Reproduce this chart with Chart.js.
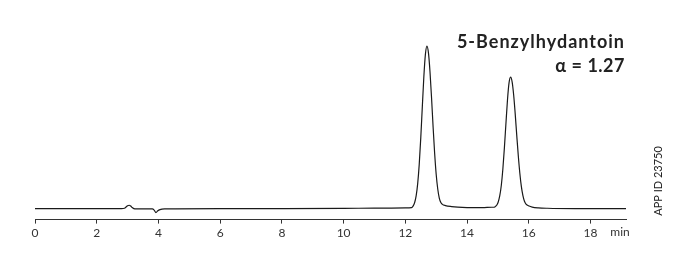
<!DOCTYPE html>
<html>
<head>
<meta charset="utf-8">
<script src="https://cdn.jsdelivr.net/npm/chart.js@4"></script>
<style>
  html, body { margin: 0; padding: 0; background: #fff; }
  #wrap { width: 677px; height: 264px; }
</style>
</head>
<body>
<div id="wrap"><canvas id="chrom"></canvas></div>
<script>
// retention time (min) and detector signal (arbitrary units, baseline = 0)
const times = [
  0, 2.8, 2.9, 2.95, 3.0, 3.05, 3.1, 3.15, 3.2, 3.3,
  3.8, 3.86, 3.92, 3.97, 4.05, 4.2, 6, 8, 10, 11, 12,
  12.2, 12.25, 12.3, 12.35, 12.4, 12.45, 12.5, 12.55, 12.6, 12.65, 12.7,
  12.75, 12.8, 12.85, 12.9, 12.95, 13.0, 13.05, 13.1, 13.15, 13.2, 13.3,
  13.5, 13.7, 14.0, 14.5, 14.8,
  14.86, 14.91, 14.96, 15.01, 15.06, 15.11, 15.16, 15.21, 15.26, 15.31, 15.36, 15.41,
  15.46, 15.51, 15.56, 15.61, 15.66, 15.71, 15.76, 15.81, 15.86, 15.91, 16.01, 16.11,
  16.31, 16.6, 17.5, 19.15
];
const signal = [
  0, 0, 0.3, 1.5, 2.8, 3.3, 2.6, 1.0, 0, -0.3,
  -0.4, -1.5, -4, -2.5, -1, -0.3, 0, 0, 0.2, 0.4, 0.6,
  0.9, 2.4, 5.8, 12.6, 24.9, 44.1, 70.5, 101.4, 131.6, 153.8, 162,
  155, 136, 110, 81, 55, 34, 19.5, 10.5, 6, 4.2, 3,
  2, 1.4, 1, 0.9, 1.3,
  1.3, 1.9, 3.3, 6.6, 12.8, 23.3, 39.5, 60.8, 85, 108.5, 125.3, 131,
  126.3, 113.2, 94.4, 73, 52.6, 35.2, 21.9, 12.9, 7.3, 4.5, 2.5, 1.5,
  0.7, 0.3, 0, 0
];
const xTicks = [0, 2, 4, 6, 8, 10, 12, 14, 16, 18];
const compound = '5-Benzylhydantoin';
const selectivity = 'α = 1.27';
const unitLabel = 'min';
const appId = 'APP ID 23750';

const FONT = 'Lato, "Open Sans", sans-serif';

const labelsPlugin = {
  id: 'labels',
  afterDraw(chart) {
    const { ctx, chartArea } = chart;
    ctx.save();
    ctx.fillStyle = '#222';
    ctx.textAlign = 'right';
    ctx.textBaseline = 'alphabetic';
    ctx.font = 'bold 18px ' + FONT;
    ctx.letterSpacing = '1px';
    ctx.fillText(compound, 625, 48);
    ctx.letterSpacing = '0.5px';
    ctx.fillText(selectivity, 625, 72);
    ctx.letterSpacing = '0px';

    ctx.font = '12px ' + FONT;
    ctx.fillStyle = '#333';
    ctx.textAlign = 'center';
    ctx.textBaseline = 'top';
    ctx.fillText(unitLabel, chartArea.right - 6, chartArea.bottom + 7);

    ctx.font = '11px ' + FONT;
    ctx.translate(658, 181);
    ctx.rotate(-Math.PI / 2);
    ctx.textAlign = 'center';
    ctx.textBaseline = 'middle';
    ctx.fillStyle = '#222';
    ctx.fillText(appId, 0, 0);
    ctx.restore();
  }
};

new Chart(document.getElementById('chrom'), {
  type: 'line',
  data: {
    datasets: [{
      data: times.map((t, i) => ({ x: t, y: signal[i] })),
      borderColor: '#1a1a1a',
      borderWidth: 1.2,
      pointRadius: 0,
      cubicInterpolationMode: 'monotone',
      fill: false
    }]
  },
  options: {
    responsive: true,
    maintainAspectRatio: false,
    animation: false,
    layout: { padding: { left: 35, right: 51, top: 10, bottom: 22 } },
    plugins: { legend: { display: false }, tooltip: { enabled: false } },
    scales: {
      x: {
        type: 'linear',
        min: 0,
        max: 19.15,
        afterBuildTicks(scale) {
          scale.ticks = xTicks.map(v => ({ value: v }));
        },
        grid: { drawOnChartArea: false, tickLength: 4, color: '#333' },
        border: { color: '#333', width: 1 },
        ticks: {
          color: '#333',
          font: { family: FONT, size: 12 },
          padding: 2,
          maxRotation: 0,
          autoSkip: false
        }
      },
      y: {
        display: false,
        min: -11,
        max: 198
      }
    }
  },
  plugins: [labelsPlugin]
});
</script>
</body>
</html>
